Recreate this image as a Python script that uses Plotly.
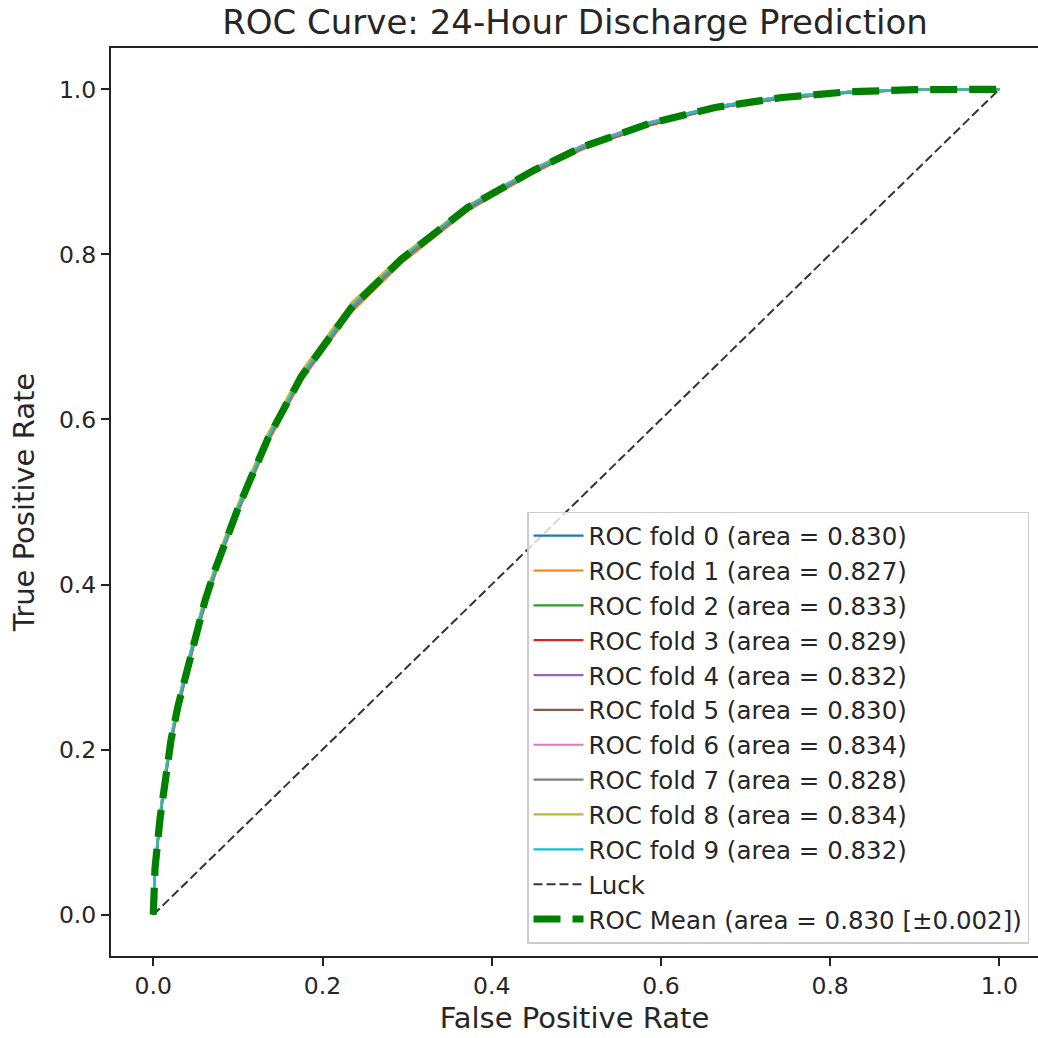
import plotly.graph_objects as go

# Shared FPR grid for folds and mean
fpr = [0, 0.002, 0.008, 0.013, 0.021, 0.029, 0.037, 0.049, 0.061, 0.073, 0.084,
       0.100, 0.112, 0.136, 0.175, 0.234, 0.293, 0.372, 0.45, 0.507, 0.585,
       0.664, 0.743, 0.822, 0.901, 1.0]

mean_tpr = [0, 0.056, 0.117, 0.160, 0.212, 0.252, 0.286, 0.335, 0.380, 0.418, 0.450,
            0.492, 0.521, 0.578, 0.652, 0.735, 0.794, 0.857, 0.902, 0.930, 0.958,
            0.978, 0.990, 0.997, 0.9995, 1.0]

fold_tpr = [
    [0, 0.055, 0.118, 0.161, 0.211, 0.253, 0.285, 0.336, 0.379, 0.418, 0.451,
     0.491, 0.520, 0.578, 0.651, 0.734, 0.794, 0.856, 0.902, 0.930, 0.958,
     0.978, 0.990, 0.997, 0.9995, 1.0],
    [0, 0.052, 0.113, 0.156, 0.207, 0.247, 0.281, 0.330, 0.374, 0.412, 0.445,
     0.487, 0.516, 0.573, 0.647, 0.730, 0.789, 0.853, 0.899, 0.927, 0.956,
     0.977, 0.989, 0.996, 0.9993, 1.0],
    [0, 0.058, 0.120, 0.163, 0.215, 0.255, 0.289, 0.338, 0.383, 0.421, 0.453,
     0.495, 0.524, 0.581, 0.655, 0.738, 0.797, 0.859, 0.904, 0.932, 0.959,
     0.979, 0.991, 0.997, 0.9996, 1.0],
    [0, 0.054, 0.115, 0.158, 0.210, 0.250, 0.284, 0.333, 0.378, 0.416, 0.448,
     0.490, 0.519, 0.576, 0.650, 0.733, 0.792, 0.855, 0.900, 0.928, 0.956,
     0.977, 0.989, 0.996, 0.9994, 1.0],
    [0, 0.057, 0.119, 0.162, 0.214, 0.254, 0.288, 0.337, 0.382, 0.420, 0.452,
     0.494, 0.523, 0.580, 0.654, 0.737, 0.796, 0.858, 0.903, 0.931, 0.959,
     0.979, 0.991, 0.997, 0.9996, 1.0],
    [0, 0.056, 0.116, 0.159, 0.212, 0.252, 0.286, 0.335, 0.380, 0.417, 0.449,
     0.492, 0.521, 0.578, 0.652, 0.735, 0.794, 0.857, 0.902, 0.930, 0.958,
     0.978, 0.990, 0.997, 0.9995, 1.0],
    [0, 0.059, 0.121, 0.164, 0.216, 0.256, 0.290, 0.339, 0.384, 0.422, 0.454,
     0.496, 0.525, 0.582, 0.656, 0.739, 0.797, 0.859, 0.904, 0.932, 0.960,
     0.979, 0.991, 0.997, 0.9996, 1.0],
    [0, 0.053, 0.114, 0.157, 0.209, 0.249, 0.283, 0.332, 0.376, 0.414, 0.447,
     0.489, 0.518, 0.575, 0.649, 0.732, 0.791, 0.854, 0.900, 0.928, 0.957,
     0.977, 0.989, 0.996, 0.9994, 1.0],
    [0, 0.058, 0.121, 0.165, 0.217, 0.257, 0.291, 0.340, 0.385, 0.423, 0.455,
     0.497, 0.526, 0.584, 0.658, 0.741, 0.798, 0.859, 0.904, 0.931, 0.959,
     0.979, 0.991, 0.997, 0.9996, 1.0],
    [0, 0.057, 0.118, 0.161, 0.213, 0.254, 0.288, 0.337, 0.381, 0.419, 0.451,
     0.493, 0.522, 0.579, 0.653, 0.736, 0.795, 0.858, 0.903, 0.931, 0.959,
     0.979, 0.991, 0.997, 0.9996, 1.0],
]

fold_auc = [0.830, 0.827, 0.833, 0.829, 0.832, 0.830, 0.834, 0.828, 0.834, 0.832]
mean_auc = 0.830
std_auc = 0.002

fold_colors = ["#1f77b4", "#ff7f0e", "#2ca02c", "#d62728", "#9467bd",
               "#8c564b", "#e377c2", "#7f7f7f", "#bcbd22", "#17becf"]

luck_x = [0, 1]
luck_y = [0, 1]

tick_vals = [0.0, 0.2, 0.4, 0.6, 0.8, 1.0]
tick_text = ["0.0", "0.2", "0.4", "0.6", "0.8", "1.0"]

FONT = "DejaVu Sans"
TXT = "#262626"

fig = go.Figure()
for i, (tpr, auc, col) in enumerate(zip(fold_tpr, fold_auc, fold_colors)):
    fig.add_trace(go.Scatter(
        x=fpr, y=tpr, mode="lines",
        line=dict(color=col, width=2.2),
        name=f"ROC fold {i} (area = {auc:.3f})",
    ))

fig.add_trace(go.Scatter(
    x=luck_x, y=luck_y, mode="lines",
    line=dict(color="rgba(0,0,0,0.8)", width=2, dash="9px,4px"),
    name="Luck",
))

fig.add_trace(go.Scatter(
    x=fpr, y=mean_tpr, mode="lines",
    line=dict(color="green", width=7.2, dash="27px,12px"),
    name=f"ROC Mean (area = {mean_auc:.3f} [±{std_auc:.3f}])",
))

axis_common = dict(
    showgrid=False, zeroline=False,
    showline=True, linecolor="#222", linewidth=2,
    ticks="outside", ticklen=8, tickwidth=2, tickcolor="#222",
    tickvals=tick_vals, ticktext=tick_text,
    tickfont=dict(family=FONT, size=23.5, color=TXT),
)

fig.update_layout(
    width=1038, height=1038,
    paper_bgcolor="white", plot_bgcolor="white",
    margin=dict(l=111, r=0, t=48, b=82),
    title=dict(text="ROC Curve: 24-Hour Discharge Prediction",
               font=dict(family=FONT, size=34, color=TXT),
               x=575 / 1038, xanchor="center", y=1 - 22 / 1038, yanchor="middle"),
    xaxis=dict(range=[-0.05, 1.0457], mirror=True,
               title=dict(text="False Positive Rate",
                          font=dict(family=FONT, size=29, color=TXT), standoff=8),
               **axis_common),
    yaxis=dict(range=[-0.05, 1.05], mirror=False,
               title=dict(text="True Positive Rate",
                          font=dict(family=FONT, size=29, color=TXT), standoff=16),
               **axis_common),
    legend=dict(x=0.9903, y=0.0135, xanchor="right", yanchor="bottom",
                bgcolor="rgba(255,255,255,0.8)", bordercolor="#cccccc", borderwidth=1.5,
                font=dict(family=FONT, size=24.5, color=TXT),
                itemwidth=50, tracegroupgap=0),
    showlegend=True,
)

fig.write_html("out.html")
